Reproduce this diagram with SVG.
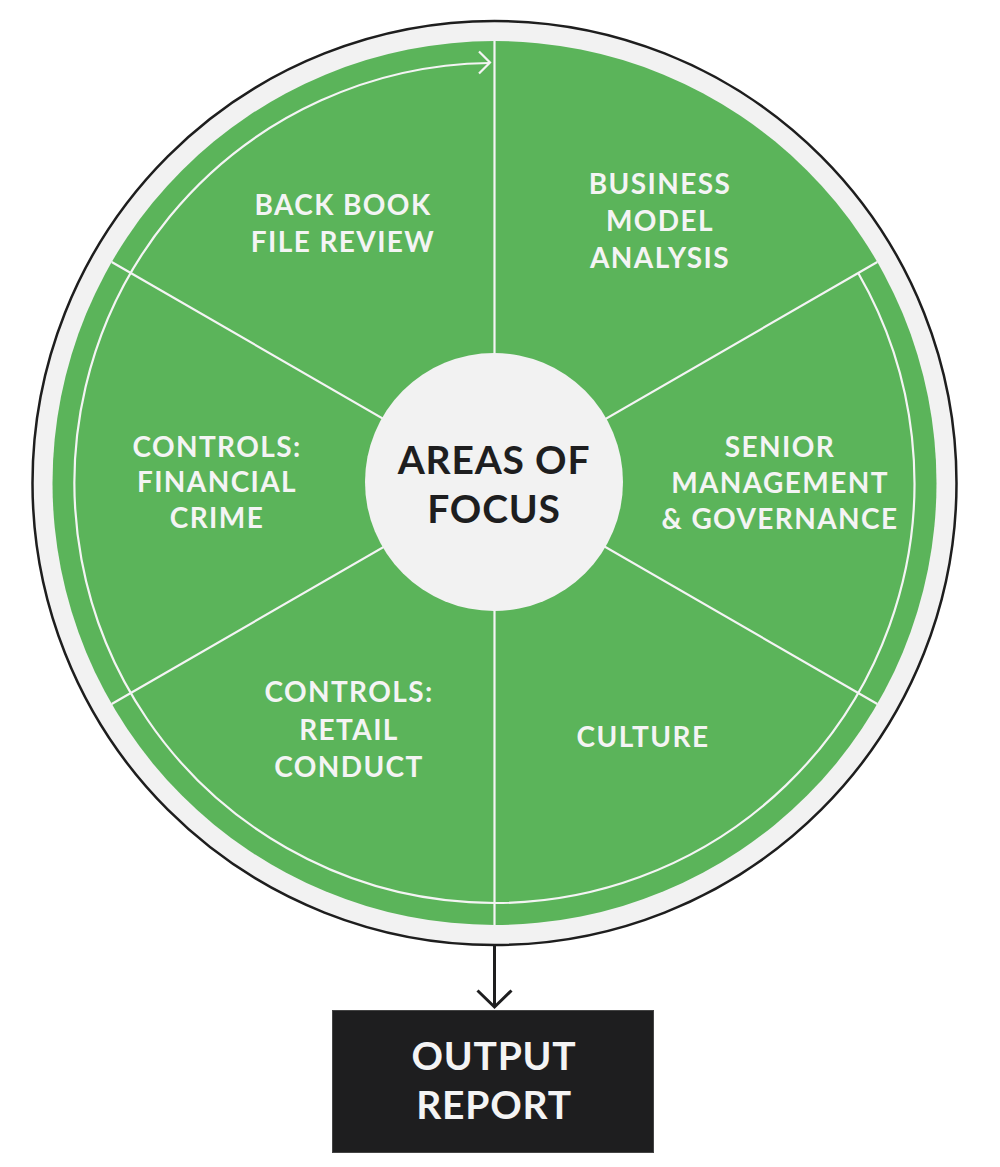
<svg xmlns="http://www.w3.org/2000/svg" width="1000" height="1167" viewBox="0 0 1000 1167">
  <style>
    .lbl { font-family: "Lato", "Liberation Sans", sans-serif; font-weight: 700; font-size: 28px; fill: #f4f4f4; text-anchor: middle; letter-spacing: 1.4px; }
    .big { font-family: "Lato", "Liberation Sans", sans-serif; font-weight: 700; font-size: 39px; text-anchor: middle; letter-spacing: 0.8px; }
    .div { stroke: #f4f4f4; stroke-width: 2.2; fill: none; }
  </style>
  <defs>
    <marker id="openArrow" viewBox="0 0 40 40" refX="20" refY="20" markerWidth="40" markerHeight="40" markerUnits="userSpaceOnUse" orient="auto">
      <path d="M 3.5 3 L 20 20 L 3.5 37" fill="none" stroke="#1e1e1f" stroke-width="3"/>
    </marker>
  </defs>

  <g id="wheel">
    <circle cx="494.5" cy="483" r="462" fill="#f2f2f2" stroke="#1e1e1e" stroke-width="2.5"/>
    <circle cx="494.5" cy="483" r="442" fill="#5bb45a"/>
    <path class="div" d="M 494.5 41 L 494.5 925 M 111.7 262 L 877.3 704 M 111.7 704 L 877.3 262"/>
    <path id="cycle-arc" class="div" d="M 858.2 273 A 420 420 0 1 1 489 63"/>
    <path class="div" d="M 479 51.5 L 490 62.5 L 479 73.5"/>
  </g>

  <g id="node-center">
    <circle cx="494" cy="482" r="129" fill="#f2f2f2"/>
    <text class="big" x="494" y="474" fill="#1e1e1f">AREAS OF</text>
    <text class="big" x="494" y="523" fill="#1e1e1f">FOCUS</text>
  </g>

  <g id="node-backbook">
    <text class="lbl" x="343" y="215">BACK BOOK</text>
    <text class="lbl" x="343" y="252">FILE REVIEW</text>
  </g>
  <g id="node-business">
    <text class="lbl" x="660" y="194">BUSINESS</text>
    <text class="lbl" x="660" y="231">MODEL</text>
    <text class="lbl" x="660" y="268">ANALYSIS</text>
  </g>
  <g id="node-senior">
    <text class="lbl" x="780" y="457">SENIOR</text>
    <text class="lbl" x="780" y="493">MANAGEMENT</text>
    <text class="lbl" x="780" y="529">&amp; GOVERNANCE</text>
  </g>
  <g id="node-culture">
    <text class="lbl" x="643" y="747">CULTURE</text>
  </g>
  <g id="node-retail">
    <text class="lbl" x="349" y="702">CONTROLS:</text>
    <text class="lbl" x="349" y="740">RETAIL</text>
    <text class="lbl" x="349" y="777">CONDUCT</text>
  </g>
  <g id="node-fincrime">
    <text class="lbl" x="217" y="457">CONTROLS:</text>
    <text class="lbl" x="217" y="492">FINANCIAL</text>
    <text class="lbl" x="217" y="528">CRIME</text>
  </g>

  <g id="connectors">
    <line x1="494.5" y1="946" x2="494.5" y2="1007" stroke="#1e1e1f" stroke-width="3" marker-end="url(#openArrow)"/>
  </g>

  <g id="node-output">
    <rect x="332.5" y="1010.5" width="321" height="142" fill="#1e1e1f" stroke="#444" stroke-width="1"/>
    <text class="big" x="494" y="1070" fill="#f4f4f4">OUTPUT</text>
    <text class="big" x="494" y="1119" fill="#f4f4f4">REPORT</text>
  </g>
</svg>
